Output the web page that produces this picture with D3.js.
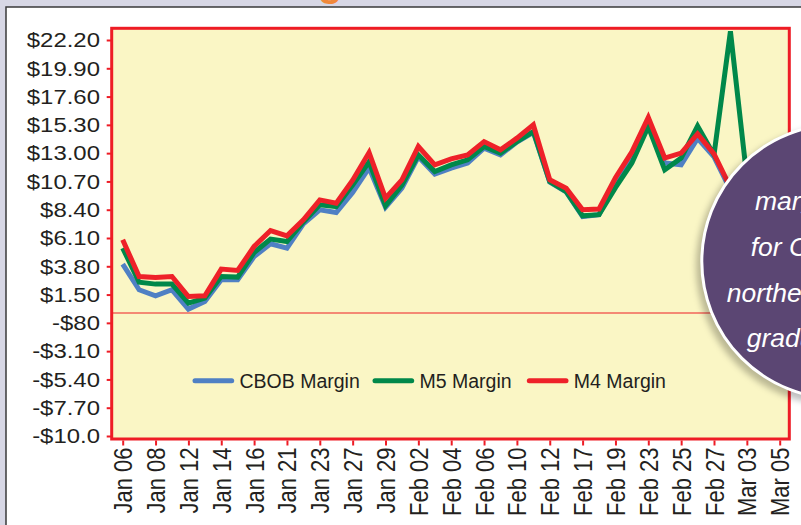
<!DOCTYPE html>
<html lang="en">
<head>
<meta charset="utf-8">
<script src="https://d3js.org/d3.v7.min.js"></script>
<style>
    body { margin: 0; }
    svg { display: block; font-family: "Liberation Sans", Arial, sans-serif; }
</style>
</head>
<body>
<svg id="chart"></svg>
<script>
    // trading days shown on the chart
    const dates = ["Jan 06", "Jan 07", "Jan 08", "Jan 09", "Jan 12", "Jan 13", "Jan 14", "Jan 15", "Jan 16",
        "Jan 20", "Jan 21", "Jan 22", "Jan 23", "Jan 26", "Jan 27", "Jan 28", "Jan 29", "Jan 30",
        "Feb 02", "Feb 03", "Feb 04", "Feb 05", "Feb 06", "Feb 09", "Feb 10", "Feb 11", "Feb 12", "Feb 13",
        "Feb 17", "Feb 18", "Feb 19", "Feb 20", "Feb 23", "Feb 24", "Feb 25", "Feb 26", "Feb 27",
        "Mar 02", "Mar 03", "Mar 04", "Mar 05"];

    const cbobMargin = [3.98, 1.89, 1.40, 1.89, 0.32, 0.93, 2.70, 2.70, 4.59, 5.63, 5.28, 7.25, 8.39, 8.17, 9.8,
        11.8, 8.6, 10.15, 12.7, 11.3, 11.78, 12.19, 13.4, 12.86, 13.9, 14.7, 10.65, 9.85, 7.85, 8.0,
        10.6, 12.6, 15.3, 12.2, 12.05, 14.2, 12.7, 10.0, 9.3, 9.6, 9.8];
    const m5Margin = [5.28, 2.50, 2.35, 2.35, 0.80, 1.21, 2.97, 2.92, 4.92, 6.01, 5.81, 7.40, 8.80, 8.66, 10.4,
        12.3, 8.72, 10.4, 12.86, 11.5, 12.05, 12.46, 13.54, 13.0, 13.94, 14.76, 10.69, 9.88, 7.9, 8.0,
        10.2, 12.2, 15.16, 11.64, 12.6, 15.2, 12.86, 22.9, 11.0, 10.0, 10.2];
    const m4Margin = [5.95, 2.97, 2.89, 2.97, 1.34, 1.40, 3.57, 3.46, 5.41, 6.71, 6.28, 7.58, 9.20, 8.93, 10.8,
        13.05, 9.34, 10.83, 13.54, 12.05, 12.54, 12.86, 13.94, 13.27, 14.22, 15.30, 10.83, 10.15, 8.40, 8.46,
        11.0, 13.1, 15.9, 12.6, 13.0, 14.56, 12.94, 10.2, 9.5, 9.8, 10.0];

    const yTickValues = [22.2, 19.9, 17.6, 15.3, 13.0, 10.7, 8.4, 6.1, 3.8, 1.5, -0.8, -3.1, -5.4, -7.7, -10.0];
    const yTickLabels = ["$22.20", "$19.90", "$17.60", "$15.30", "$13.00", "$10.70", "$8.40", "$6.10", "$3.80",
        "$1.50", "-$80", "-$3.10", "-$5.40", "-$7.70", "-$10.0"];
    const xTickLabels = dates.filter((d, i) => i % 2 === 0);

    const seriesNames = ["CBOB Margin", "M5 Margin", "M4 Margin"];
    const noteLines = ["margins", "for CBOB in", "northeast", "gradually"];

    const width = 801;
    const height = 525;
    const colors = ["#4f80c4", "#00884a", "#ee2129"];

    const svg = d3.select("#chart")
        .attr("width", width)
        .attr("height", height);

    // page background and panel
    svg.append("rect").attr("width", width).attr("height", height).attr("fill", "#d7d7e5");
    svg.append("rect")
        .attr("x", 6).attr("y", 7)
        .attr("width", 820).attr("height", 540)
        .attr("fill", "#fff")
        .attr("stroke", "#3a3a3a")
        .attr("stroke-width", 1.5);

    // cropped title letter
    svg.append("text")
        .attr("x", 318).attr("y", -4)
        .attr("font-size", 40)
        .attr("font-weight", "bold")
        .attr("fill", "#f0883a")
        .text("g");

    const plot = { left: 111.7, top: 28.3, right: 789.3, bottom: 439 };

    svg.append("rect")
        .attr("x", plot.left).attr("y", plot.top)
        .attr("width", plot.right - plot.left)
        .attr("height", plot.bottom - plot.top)
        .attr("fill", "#faf6c5")
        .attr("stroke", "#ee1c25")
        .attr("stroke-width", 3);

    const x = d3.scalePoint().domain(dates).range([122.7, 779.7]);
    const y = d3.scaleLinear().domain([-10, 22.2]).range([436, 40]);

    // y axis
    const yAxis = svg.append("g")
        .attr("transform", `translate(${plot.left},0)`)
        .call(d3.axisLeft(y).tickValues(yTickValues).tickSize(5)
            .tickFormat((d, i) => yTickLabels[i]));
    yAxis.select(".domain").remove();
    yAxis.selectAll(".tick line").attr("stroke", "#ee1c25").attr("stroke-width", 2);
    yAxis.selectAll(".tick text")
        .attr("x", -10.3)
        .attr("transform", "scale(1.14,1)")
        .attr("font-size", 21)
        .attr("font-family", "Liberation Sans, Arial, sans-serif")
        .attr("fill", "#231f20");

    // x axis
    const xAxis = svg.append("g")
        .attr("transform", `translate(0,${plot.bottom + 1.5})`)
        .call(d3.axisBottom(x).tickValues(xTickLabels).tickSize(5));
    xAxis.select(".domain").remove();
    xAxis.selectAll(".tick line").attr("stroke", "#ee1c25").attr("stroke-width", 2);
    xAxis.selectAll(".tick text")
        .attr("x", 0).attr("y", 0)
        .attr("dy", "0.36em")
        .attr("text-anchor", "end")
        .attr("transform", "translate(0,7) scale(1.14,1) rotate(-90)")
        .attr("font-size", 22)
        .attr("font-family", "Liberation Sans, Arial, sans-serif")
        .attr("fill", "#231f20");

    // zero line
    svg.append("line")
        .attr("x1", plot.left).attr("x2", plot.right)
        .attr("y1", y(0)).attr("y2", y(0))
        .attr("stroke", "#ee1c25")
        .attr("stroke-width", 1.2);

    const line = d3.line()
        .x((d, i) => x(dates[i]))
        .y(d => y(d));

    [cbobMargin, m5Margin, m4Margin].forEach((values, k) => {
        svg.append("path")
            .datum(values)
            .attr("d", line)
            .attr("fill", "none")
            .attr("stroke", colors[k])
            .attr("stroke-width", 5)
            .attr("stroke-linejoin", "miter");
    });

    // legend
    const legendX = [195, 375, 529.3];
    const legend = svg.append("g");
    seriesNames.forEach((name, k) => {
        legend.append("line")
            .attr("x1", legendX[k]).attr("x2", legendX[k] + 36.7)
            .attr("y1", 380.7).attr("y2", 380.7)
            .attr("stroke", colors[k])
            .attr("stroke-width", 5)
            .attr("stroke-linecap", "round");
        legend.append("text")
            .attr("x", legendX[k] + 44.5)
            .attr("y", 387.5)
            .attr("font-size", 19.5)
            .attr("fill", "#231f20")
            .text(name);
    });

    // callout bubble
    const defs = svg.append("defs");
    defs.append("filter").attr("id", "blur")
        .append("feGaussianBlur").attr("stdDeviation", 3);

    svg.append("circle")
        .attr("cx", 835).attr("cy", 266).attr("r", 139)
        .attr("fill", "rgba(0,0,0,0.25)")
        .attr("filter", "url(#blur)");
    svg.append("circle")
        .attr("cx", 838.8).attr("cy", 261.5).attr("r", 137)
        .attr("fill", "#5b4673")
        .attr("stroke", "#fff")
        .attr("stroke-width", 3);

    const noteX = [755, 750.7, 726.7, 746.7];
    const noteY = [210, 255.5, 301.5, 347];
    svg.append("g").selectAll("text")
        .data(noteLines)
        .enter().append("text")
        .attr("x", (d, i) => noteX[i])
        .attr("y", (d, i) => noteY[i])
        .attr("font-size", 26.5)
        .attr("font-style", "italic")
        .attr("fill", "#fff")
        .text(d => d);
</script>
</body>
</html>
